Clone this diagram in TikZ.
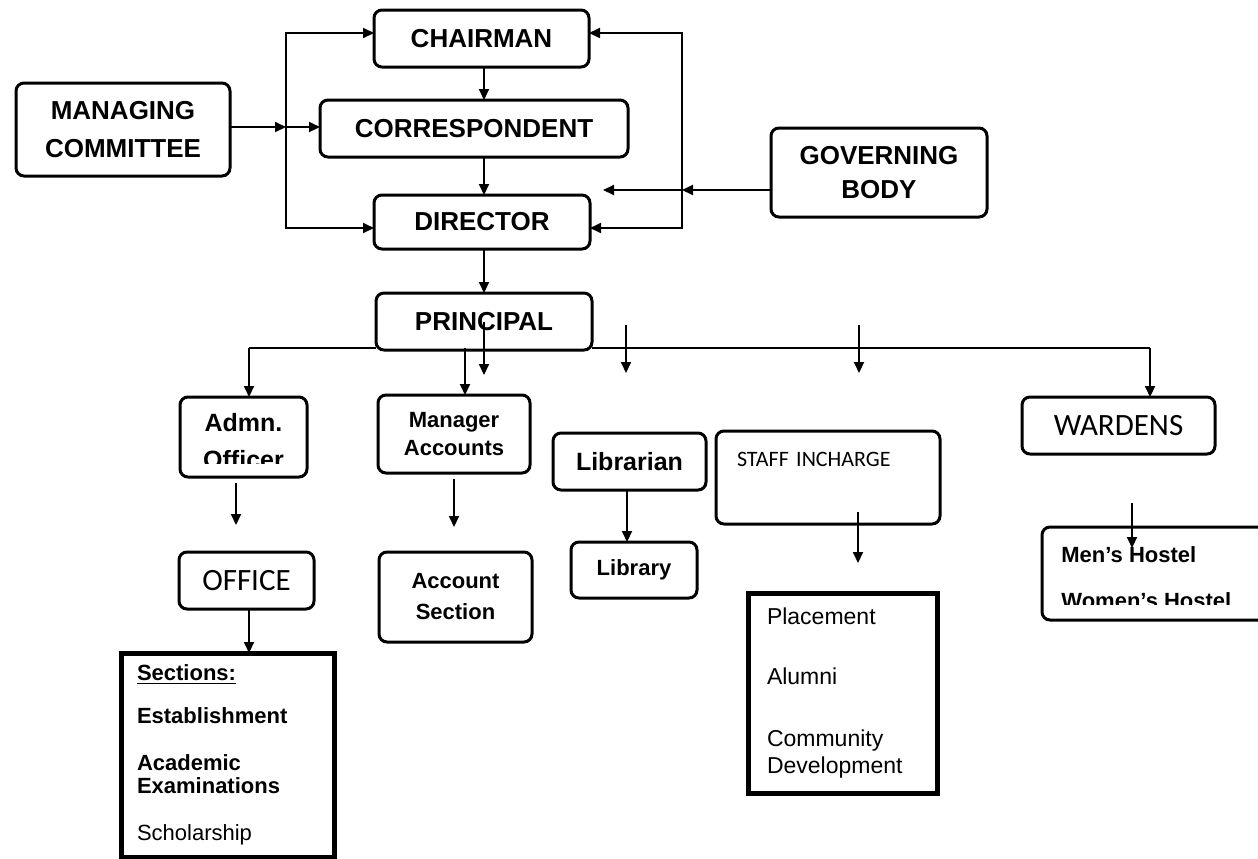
\documentclass[tikz,border=0pt]{standalone}
\usepackage{fontspec}
\setmainfont{Liberation Sans}
\newfontfamily\calfont{Carlito}
\usetikzlibrary{arrows.meta, positioning}

\begin{document}
\begin{tikzpicture}[
			x=0.5pt, y=-0.5pt,
			box/.style={draw, line width=1.5pt, rounded corners=4pt, fill=white, align=center, inner sep=0pt, outer sep=0pt, font=\bfseries\fontsize{13}{17}\selectfont},
			listbox/.style={draw, line width=2.5pt, fill=white, align=left, inner ysep=0pt, outer sep=0pt},
			arrow/.style={-{Triangle[length=5.5pt, width=5pt]}, line width=1pt},
			twoway/.style={{Triangle[length=5.5pt, width=5pt]}-{Triangle[length=5.5pt, width=5pt]}, line width=1pt},
			bus/.style={line width=0.6pt}
			]
			
			\useasboundingbox (0,0) rectangle (1258,858);
			
			% Top
			\node[box, minimum width=107.5pt, minimum height=28.5pt] (chairman) at (481.5,38.5) {CHAIRMAN};
			\node[box, minimum width=154pt, minimum height=28.5pt, below=16.5pt of chairman, xshift=-3.75pt] (correspondent) {CORRESPONDENT};
			\node[box, minimum width=108pt, minimum height=27pt, below=19pt of correspondent, xshift=4pt] (director) {DIRECTOR};
			\node[box, minimum width=108pt, minimum height=28.5pt, below=22pt of director, xshift=1pt] (principal) {PRINCIPAL};
			
			% Committees
			\node[box, minimum width=107pt, minimum height=46.5pt, left=45pt of correspondent, yshift=-0.5pt, font=\bfseries\fontsize{13}{19}\selectfont] (managing) {MANAGING\\COMMITTEE};
			\node[box, minimum width=108pt, minimum height=44.5pt, right=71.5pt of correspondent, yshift=-22pt] (governing) {GOVERNING\\BODY};
			
			% Second row
			\node[box, minimum width=63.5pt, minimum height=40pt, below=23.5pt of principal, xshift=-120.25pt] (admn) {};
			\begin{scope}
				\clip ([yshift=7pt]admn.south west) rectangle (admn.north east);
				\node[align=center, font=\bfseries\fontsize{12.5}{18.5}\selectfont, yshift=-2.25pt] (admntext) at (admn) {Admn.\\Officer};
			\end{scope}
			\node[box, minimum width=76pt, minimum height=39pt, right=35.5pt of admn, yshift=1.5pt, font=\bfseries\fontsize{11}{14}\selectfont] (manager) {Manager\\Accounts};
			\node[box, minimum width=76.5pt, minimum height=28.5pt, right=11.5pt of manager, yshift=-13.75pt, font=\bfseries\fontsize{12.5}{15}\selectfont] (librarian) {Librarian};
			\node[box, align=left, inner xsep=10.5pt, text width=91pt, text height=17.5pt, text depth=29pt, right=5pt of librarian, yshift=-8pt, font=\calfont\fontsize{11}{13}\selectfont] (staff) {STAFF INCHARGE};
			\node[box, minimum width=96.5pt, minimum height=28.5pt, right=41pt of staff, yshift=26pt, font=\calfont\fontsize{15.5}{18}\selectfont] (wardens) {WARDENS};
			
			% Third row
			\node[box, minimum width=67.5pt, minimum height=28.5pt, below=37.5pt of admn, xshift=1.5pt, font=\calfont\fontsize{15.5}{18}\selectfont] (office) {OFFICE};
			\node[listbox, text width=90.5pt, inner xsep=8pt, minimum height=102pt, below=22pt of office, xshift=-9.5pt, font=\fontsize{11}{11.5}\selectfont] (sections) {\underline{\textbf{Sections:}}\\[10pt]\textbf{Establishment}\\[12pt]\textbf{Academic}\\\textbf{Examinations}\\[12pt]Scholarship};
			\node[box, minimum width=76.5pt, minimum height=45pt, below=39.5pt of manager, xshift=0.75pt, font=\bfseries\fontsize{11}{15.5}\selectfont] (account) {Account\\Section};
			\node[box, minimum width=63pt, minimum height=28pt, below=26pt of librarian, xshift=2.25pt, font=\bfseries\fontsize{11}{13}\selectfont] (library) {Library};
			\node[listbox, text width=75.5pt, inner xsep=9.5pt, minimum height=100pt, below=34.5pt of staff, xshift=7.25pt, font=\fontsize{11.5}{13.5}\selectfont] (placement) {Placement\\[16.5pt]Alumni\\[17.5pt]Community\\Development};
			\node[box, minimum width=124pt, minimum height=46.5pt, below=36.5pt of wardens, xshift=23.75pt] (hostel) {};
			\begin{scope}
				\clip ([yshift=8pt]hostel.south west) rectangle (hostel.north east);
				\node[align=left, anchor=west, inner sep=0pt, font=\bfseries\fontsize{11}{13}\selectfont] (hosteltext) at ([xshift=9.5pt, yshift=-2pt]hostel.west) {Men's Hostel\\[10pt]Women's Hostel};
			\end{scope}
			
			% Helper points
			\coordinate (spine) at (484,0);
			\coordinate (lbar) at (286,0);
			\coordinate (rbar) at (682,0);
			\coordinate (govtip) at (603,0);
			\coordinate (busA) at (249,348);
			\coordinate (busM) at (465,348);
			\coordinate (busW) at (1150,348);
			\coordinate (looseA) at (484,375);
			\coordinate (looseB1) at (626,325);
			\coordinate (looseB2) at (626,373);
			\coordinate (looseC1) at (859,325);
			\coordinate (looseC2) at (859,373);
			\coordinate (officetip) at (236,525);
			\coordinate (accounttip) at (454,527);
			\coordinate (staffA) at (858,512);
			\coordinate (staffB) at (858,563);
			\coordinate (wardenA) at (1132,503);
			\coordinate (wardenB) at (1132,548);
			
			% Arrows
			\draw[arrow] (chairman.south -| spine) -- (correspondent.north -| spine);
			\draw[arrow] (correspondent.south -| spine) -- (director.north -| spine);
			\draw[arrow] (director.south -| spine) -- (principal.north -| spine);
			
			\draw[twoway] ([yshift=2.75pt]chairman.west) -- ([yshift=2.75pt]chairman.west -| lbar) -- ([yshift=-3pt]director.west -| lbar) -- ([yshift=-3pt]director.west);
			\draw[twoway] ([yshift=2.75pt]chairman.east) -- ([yshift=2.75pt]chairman.east -| rbar) -- ([yshift=-3pt]director.east -| rbar) -- ([yshift=-3pt]director.east);
			
			\draw[arrow] ([yshift=1.25pt]managing.east) -- ([yshift=1.25pt]managing.east -| lbar);
			\draw[arrow] ([yshift=1.25pt]managing.east -| lbar) -- ([yshift=1.25pt]managing.east -| correspondent.west);
			
			\draw[arrow] ([yshift=-8.75pt]governing.west) -- ([yshift=-8.75pt]governing.west -| rbar);
			\draw[arrow] ([yshift=-8.75pt]governing.west -| rbar) -- ([yshift=-8.75pt]governing.west -| govtip);
			
			\draw[bus] (busA) -- (busA -| principal.west);
			\draw[bus] (busW -| principal.east) -- (busW);
			\draw[arrow] (busA) -- (busA |- admn.north);
			\draw[arrow] (busM) -- (busM |- manager.north);
			\draw[arrow] (busW) -- (busW |- wardens.north);
			
			\draw[arrow] (principal.center -| spine) -- (looseA);
			\draw[arrow] (looseB1) -- (looseB2);
			\draw[arrow] (looseC1) -- (looseC2);
			
			\draw[arrow] ([yshift=-3pt]admn.south -| officetip) -- (officetip);
			\draw[arrow] ([xshift=1.25pt]office.south) -- ([xshift=1.25pt]office.south |- sections.north);
			\draw[arrow] ([yshift=-3pt]manager.south -| accounttip) -- (accounttip);
			\draw[arrow] ([xshift=-1.25pt]librarian.south) -- ([xshift=-1.25pt]librarian.south |- library.north);
			\draw[arrow] (staffA) -- (staffB);
			\draw[arrow] (wardenA) -- (wardenB);
			
		\end{tikzpicture}
\end{document}
